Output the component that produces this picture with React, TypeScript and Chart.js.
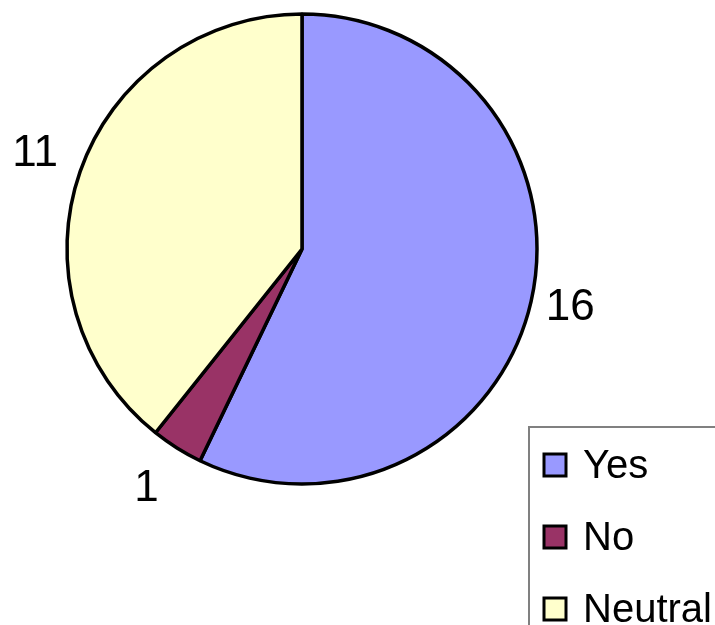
import React, { useEffect, useRef } from "react";
import { Chart, registerables } from "chart.js";

Chart.register(...registerables);

const categories = ["Yes", "No", "Neutral"];
const values = [16, 1, 11];
const colors = ["#9999FF", "#993366", "#FFFFCC"];

const FONT = '"Liberation Sans", Arial, sans-serif';

const labelPlugin = {
  id: "sliceLabels",
  afterDatasetsDraw(chart: any) {
    const ctx = chart.ctx;
    const meta = chart.getDatasetMeta(0);
    ctx.save();
    ctx.fillStyle = "#000";
    ctx.font = `44px ${FONT}`;
    ctx.textAlign = "center";
    ctx.textBaseline = "middle";
    meta.data.forEach((arc: any, i: number) => {
      const { x, y, startAngle, endAngle, outerRadius } = arc.getProps(
        ["x", "y", "startAngle", "endAngle", "outerRadius"],
        true
      );
      const mid = (startAngle + endAngle) / 2;
      const dx = Math.cos(mid);
      const dy = Math.sin(mid);
      const d = outerRadius + 40 + 14 * Math.abs(dy);
      ctx.fillText(String(values[i]), x + dx * d - 3, y + dy * d - 3);
    });
    ctx.restore();
  },
};

const legendPlugin = {
  id: "boxLegend",
  afterDraw(chart: any) {
    const ctx = chart.ctx;
    const left = 529;
    const top = 427;
    ctx.save();
    ctx.strokeStyle = "#808080";
    ctx.lineWidth = 2;
    ctx.beginPath();
    ctx.moveTo(left, chart.height + 5);
    ctx.lineTo(left, top);
    ctx.lineTo(chart.width + 5, top);
    ctx.stroke();
    ctx.font = `40px ${FONT}`;
    ctx.textAlign = "left";
    ctx.textBaseline = "middle";
    categories.forEach((c, i) => {
      const cy = 465 + i * 72;
      ctx.fillStyle = colors[i];
      ctx.fillRect(544, cy - 11, 22, 22);
      ctx.strokeStyle = "#000";
      ctx.lineWidth = 3;
      ctx.strokeRect(544, cy - 11, 22, 22);
      ctx.fillStyle = "#000";
      ctx.fillText(c, 583, cy + 2);
    });
    ctx.restore();
  },
};

export default function App() {
  const ref = useRef<HTMLCanvasElement>(null);
  useEffect(() => {
    document.body.style.margin = "0";
    const chart = new Chart(ref.current as HTMLCanvasElement, {
      type: "pie",
      data: {
        labels: categories,
        datasets: [
          {
            data: values,
            backgroundColor: colors,
            borderColor: "#000",
            borderWidth: 3.5,
          },
        ],
      },
      options: {
        animation: false,
        responsive: false,
        devicePixelRatio: 1,
        radius: 235,
        layout: { padding: { left: 66, top: 13, right: 177, bottom: 140 } },
        plugins: {
          legend: { display: false },
          tooltip: { enabled: false },
        },
      },
      plugins: [labelPlugin, legendPlugin],
    });
    return () => chart.destroy();
  }, []);
  return (
    <div style={{ position: "fixed", left: 0, top: 0, width: 715, height: 625, background: "#fff" }}>
      <canvas ref={ref} width={715} height={625} />
    </div>
  );
}
